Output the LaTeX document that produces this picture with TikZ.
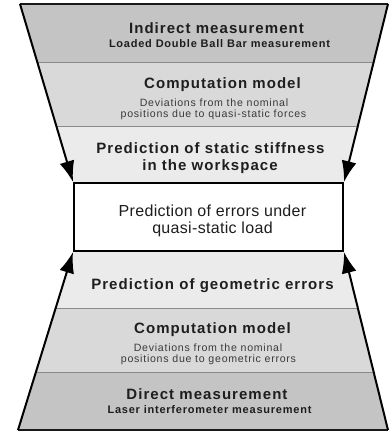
\documentclass[tikz,border=0pt]{standalone}
\usepackage{fontspec}
\setmainfont{Liberation Sans}
\newfontfamily\trackA[LetterSpace=7]{Liberation Sans}
\newfontfamily\trackB[LetterSpace=2]{Liberation Sans}
\usetikzlibrary{arrows.meta,calc,backgrounds}
\definecolor{bandA}{HTML}{C4C4C4}
\definecolor{bandB}{HTML}{D9D9D9}
\definecolor{bandC}{HTML}{EBEBEB}
\definecolor{divcol}{HTML}{8A8A8A}
\definecolor{txtdark}{HTML}{1E1E1E}
\definecolor{txtgray}{HTML}{3A3A3A}
\tikzset{
  sidearrow/.style={line width=2pt, draw=black, -{Latex[length=21pt,width=15pt]}},
  edgeline/.style={line width=1.8pt, draw=black!90},
  divider/.style={line width=0.9pt, draw=divcol},
  centerbox/.style={draw=black, line width=2pt, fill=white, inner sep=0pt,
    minimum width=269pt, minimum height=68pt},
  ttl/.style={anchor=base, inner sep=0pt, text=txtdark, font=\trackA\bfseries\fontsize{15}{18}\selectfont},
  subb/.style={anchor=base, inner sep=0pt, text=txtdark, font=\trackA\bfseries\fontsize{11}{13}\selectfont},
  subr/.style={anchor=base, inner sep=0pt, text=txtgray, font=\trackA\fontsize{10.6}{12}\selectfont},
  boxt/.style={anchor=base, inner sep=0pt, text=txtdark, font=\trackB\fontsize{16}{19}\selectfont}
}
\begin{document}
\begin{tikzpicture}[x=1pt,y=-1pt]
\useasboundingbox (0,0) rectangle (390,432);
\coordinate (tl) at (20,4);
\coordinate (tr) at (388,4);
\coordinate (bl) at (18,430);
\coordinate (br) at (388,430);
\node[centerbox] (box) at (208.5,217) {};
\coordinate (l1) at ($(tl)!0.3296!(box.north west)$);
\coordinate (r1) at ($(tr)!0.3296!(box.north east)$);
\coordinate (l2) at ($(tl)!0.687!(box.north west)$);
\coordinate (r2) at ($(tr)!0.687!(box.north east)$);
\coordinate (m1) at ($(box.south west)!0.318!(bl)$);
\coordinate (n1) at ($(box.south east)!0.318!(br)$);
\coordinate (m2) at ($(box.south west)!0.676!(bl)$);
\coordinate (n2) at ($(box.south east)!0.676!(br)$);
\begin{scope}[on background layer]
  \fill[bandA] (tl) -- (tr) -- (r1) -- (l1) -- cycle;
  \fill[bandB] (l1) -- (r1) -- (r2) -- (l2) -- cycle;
  \fill[bandC] (l2) -- (r2) -- (box.north east) -- (box.north west) -- cycle;
  \fill[bandC] (box.south west) -- (box.south east) -- (n1) -- (m1) -- cycle;
  \fill[bandB] (m1) -- (n1) -- (n2) -- (m2) -- cycle;
  \fill[bandA] (m2) -- (n2) -- (br) -- (bl) -- cycle;
  \draw[divider] (l1) -- (r1);
  \draw[divider] (l2) -- (r2);
  \draw[divider] (m1) -- (n1);
  \draw[divider] (m2) -- (n2);
\end{scope}
\draw[edgeline] (tl) -- (tr);
\draw[edgeline] (bl) -- (br);
\draw[sidearrow] (tl) -- (box.north west);
\draw[sidearrow] (tr) -- (box.north east);
\draw[sidearrow] (bl) -- (box.south west);
\draw[sidearrow] (br) -- (box.south east);
\node[ttl] (t1) at (216.5,33) {Indirect measurement};
\node[subb] (t1s) at (219.5,47.5) {Loaded Double Ball Bar measurement};
\node[ttl] (t2) at (222.5,88) {Computation model};
\node[subr] (t2a) at (214,106) {Deviations from the nominal};
\node[subr] (t2b) at (213.5,117) {positions due to quasi-static forces};
\node[ttl] (t3a) at (210.5,153.5) {Prediction of static stiffness};
\node[ttl] (t3b) at (210,170) {in the workspace};
\node[boxt] (c1) at (212.5,216.5) {Prediction of errors under};
\node[boxt] (c2) at (212.5,233.3) {quasi-static load};
\node[ttl] (b3) at (212.5,289) {Prediction of geometric errors};
\node[ttl] (b2) at (212.5,333) {Computation model};
\node[subr] (b2a) at (208,351) {Deviations from the nominal};
\node[subr] (b2b) at (208.5,362.5) {positions due to geometric errors};
\node[ttl] (b1) at (207,399) {Direct measurement};
\node[subb] (b1s) at (209.5,413) {Laser interferometer measurement};
\end{tikzpicture}
\end{document}
